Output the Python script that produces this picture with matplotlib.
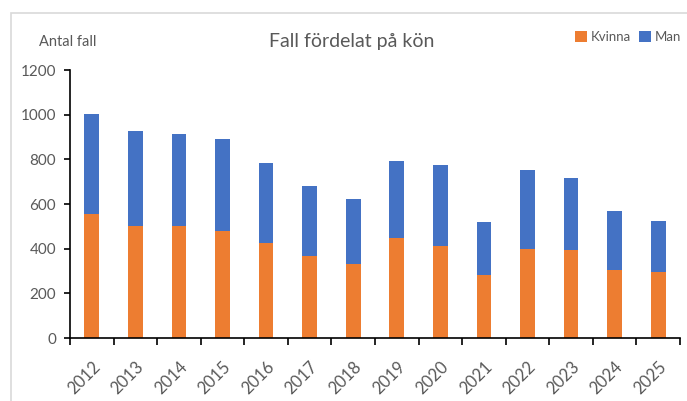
import matplotlib.pyplot as plt
from matplotlib.patches import Rectangle
import numpy as np

# === Données ===
years = ['2012', '2013', '2014', '2015', '2016', '2017', '2018',
         '2019', '2020', '2021', '2022', '2023', '2024', '2025']
kvinna = [554, 502, 502, 479, 424, 367, 333, 446, 411, 284, 397, 394, 305, 297]
man = [451, 427, 410, 412, 361, 314, 288, 348, 362, 237, 357, 321, 265, 229]
yticks = [0, 200, 400, 600, 800, 1000, 1200]

orange = '#ED7D31'
blue = '#4472C4'
gray = '#595959'

plt.rcParams['font.family'] = ['Lato', 'DejaVu Sans']

W, H = 687, 401
fig = plt.figure(figsize=(W / 100, H / 100), dpi=100)
ax = fig.add_axes([70 / W, 1 - 338 / H, 610 / W, 268 / H])

# cadre gris clair
fig.patches.append(Rectangle((11 / W, -0.1), 1.2, 1 - 13 / H + 0.1,
                             transform=fig.transFigure, fill=False,
                             edgecolor='#d9d9d9', linewidth=1.2))

x = np.arange(len(years))
ax.bar(x, kvinna, width=0.34, color=orange, label='Kvinna')
ax.bar(x, man, width=0.34, bottom=kvinna, color=blue, label='Man')

ax.set_xlim(-0.5, len(years) - 0.5)
ax.set_ylim(0, 1200)
ax.set_yticks(yticks)
ax.set_yticklabels([str(v) for v in yticks], color=gray, fontsize=11)
ax.tick_params(axis='y', length=4, width=1.2, pad=6)

# ticks entre catégories, étiquettes au centre
ax.set_xticks(np.arange(-0.5, len(years)), minor=False)
ax.set_xticklabels([])
ax.tick_params(axis='x', which='major', length=5, width=1.2)
ax.set_xticks(x, minor=True)
ax.set_xticklabels(years, minor=True, rotation=45, ha='right',
                   rotation_mode='anchor', color=gray, fontsize=12)
ax.tick_params(axis='x', which='minor', length=0, pad=15)

for s in ['top', 'right']:
    ax.spines[s].set_visible(False)
for s in ['left', 'bottom']:
    ax.spines[s].set_linewidth(1.2)

fig.text(352 / W, 1 - 42 / H, 'Fall fördelat på kön', ha='center', va='center',
         color=gray, fontsize=14)
fig.text(39 / W, 1 - 42 / H, 'Antal fall', ha='left', va='center',
         color=gray, fontsize=10.5)

ax.legend(loc='center', bbox_to_anchor=(628 / W, 1 - 37 / H),
          bbox_transform=fig.transFigure, ncol=2, frameon=False,
          fontsize=9.5, handlelength=0.9, handleheight=0.9, handletextpad=0.3,
          columnspacing=0.6, labelcolor=gray)

fig.savefig('out.png', dpi=100)
